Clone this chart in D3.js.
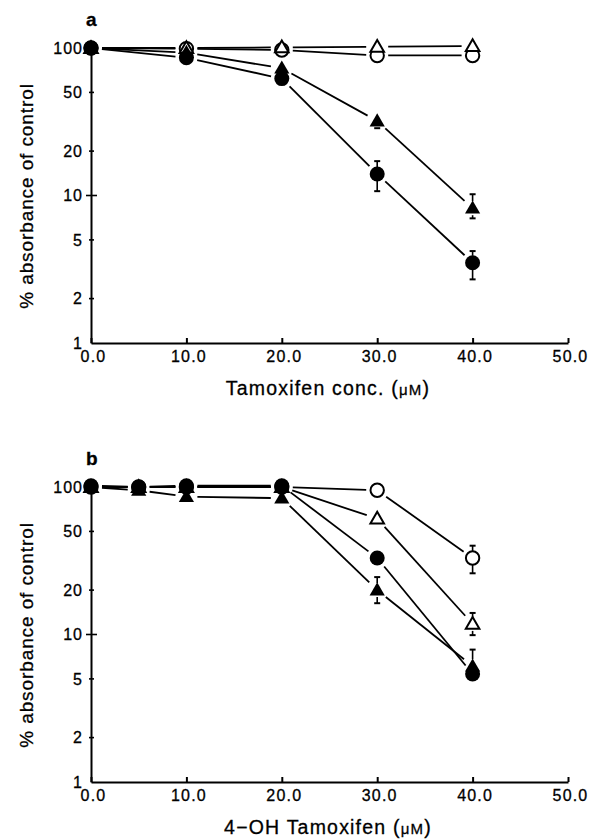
<!DOCTYPE html>
<html>
<head>
<meta charset="utf-8">
<script src="https://cdn.jsdelivr.net/npm/d3@7"></script>
<style>
  body { margin: 0; background: #fff; }
  text { font-family: "Liberation Sans", Arial, sans-serif; fill: #000; stroke: #000; stroke-width: 0.3px; }
</style>
</head>
<body>
<svg id="chart" width="595" height="839"></svg>
<script>
// panel a: tamoxifen
var aDose = [0, 10, 20, 30, 40];
var aOpenCircle = [100, 99, 97, 89, 89];
var aOpenTriangle = [100, 100, 101, 102, 103];
var aFilledTriangle = [100, 93, 73, 32, 8.2];
var aFilledCircle = [100, 86, 62, 14, 3.5];
var aFilledTriangleErr = [null, null, null, [28.6, 33], [7.0, 10.2]];
var aFilledCircleErr = [null, null, null, [10.7, 17.1], [2.7, 4.2]];

// panel b: 4-OH tamoxifen
var bDose = [0, 5, 10, 20, 30, 40];
var bOpenCircle = [100, 100, 100, 100, 95, 33];
var bOpenTriangle = [100, 100, 100, 100, 61, 11.8];
var bFilledTriangle = [100, 95, 86, 84, 20, 6.1];
var bFilledCircle = [102, 100, 102, 102, 33, 5.4];
var bOpenCircleErr = [null, null, null, null, null, [26, 40]];
var bOpenTriangleErr = [null, null, null, null, null, [9.9, 14]];
var bFilledTriangleErr = [null, null, null, null, [16.3, 24.5], [5.0, 7.9]];

var xTicks = [0, 10, 20, 30, 40, 50];
var yTicks = [1, 2, 5, 10, 20, 50, 100];
var yMajor = [10];

var svg = d3.select("#chart");

function drawPanel(top, letter, xTitle, dose, series) {
    var g = svg.append("g").attr("transform", "translate(0," + top + ")");

    var x = d3.scaleLinear().domain([0, 50]).range([91, 568]);
    var y = d3.scaleLog().domain([1, 100]).range([343, 48]);

    // y axis
    var yAxis = g.append("g")
        .attr("transform", "translate(91,0)")
        .call(d3.axisLeft(y).tickValues(yTicks).tickFormat(d3.format("d"))
            .tickSize(0).tickSizeOuter(0).tickPadding(8));
    yAxis.select(".domain").attr("stroke-width", 2);
    yAxis.selectAll("text")
        .attr("font-size", 16)
        .attr("letter-spacing", 1);

    // ticks crossing the y axis
    g.selectAll(".ytick").data(yTicks.filter(function(d) { return d > 1 && d < 100; }))
        .enter().append("line")
        .attr("x1", function(d) { return yMajor.indexOf(d) >= 0 ? 86 : 89; })
        .attr("x2", function(d) { return yMajor.indexOf(d) >= 0 ? 97 : 94; })
        .attr("y1", function(d) { return y(d); })
        .attr("y2", function(d) { return y(d); })
        .attr("stroke", "#000")
        .attr("stroke-width", 1.6);

    // x axis
    var xAxis = g.append("g")
        .attr("transform", "translate(0,343)")
        .call(d3.axisBottom(x).tickValues(xTicks).tickFormat(d3.format(".1f"))
            .tickSize(-5).tickSizeOuter(0).tickPadding(8));
    xAxis.select(".domain").attr("stroke-width", 2);
    xAxis.selectAll("line").attr("stroke-width", 2);
    xAxis.selectAll("text")
        .attr("font-size", 16)
        .attr("letter-spacing", 1.2)
        .attr("dx", 2);

    // titles
    var xt = g.append("text")
        .attr("x", 328)
        .attr("y", 395)
        .attr("text-anchor", "middle")
        .attr("font-size", 19.5)
        .attr("letter-spacing", 1.2)
        .text(xTitle + " (");
    xt.append("tspan").attr("font-size", 15).text("\u03bcM");
    xt.append("tspan").text(")");

    g.append("text")
        .attr("transform", "translate(33,196) rotate(-90)")
        .attr("text-anchor", "middle")
        .attr("font-size", 19)
        .attr("letter-spacing", 0.9)
        .text("% absorbance of control");

    g.append("text")
        .attr("x", 86)
        .attr("y", 26)
        .attr("font-size", 19)
        .attr("font-weight", "bold")
        .text(letter);

    // connecting lines, stopped short of the markers
    var gap = 11;
    series.forEach(function(s) {
        for (var i = 0; i < dose.length - 1; i++) {
            var x0 = x(dose[i]), y0 = y(s.values[i]);
            var x1 = x(dose[i + 1]), y1 = y(s.values[i + 1]);
            var len = Math.sqrt((x1 - x0) * (x1 - x0) + (y1 - y0) * (y1 - y0));
            var ux = (x1 - x0) / len, uy = (y1 - y0) / len;
            g.append("line")
                .attr("x1", x0 + ux * gap)
                .attr("y1", y0 + uy * gap)
                .attr("x2", x1 - ux * gap)
                .attr("y2", y1 - uy * gap)
                .attr("stroke", "#000")
                .attr("stroke-width", 1.8);
        }
    });

    // error bars, drawn only outside the marker
    series.forEach(function(s) {
        if (!s.err) return;
        s.err.forEach(function(e, i) {
            if (!e) return;
            var cx = x(dose[i]), cy = y(s.values[i]);
            var ends = [y(e[0]), y(e[1])];
            ends.forEach(function(ey) {
                var edge = ey > cy ? cy + 7 : cy - 7;
                if (Math.abs(ey - cy) <= 7) return;
                g.append("line")
                    .attr("x1", cx).attr("x2", cx)
                    .attr("y1", edge).attr("y2", ey)
                    .attr("stroke", "#000").attr("stroke-width", 1.6);
                g.append("line")
                    .attr("x1", cx - 3).attr("x2", cx + 3)
                    .attr("y1", ey).attr("y2", ey)
                    .attr("stroke", "#000").attr("stroke-width", 2);
            });
        });
    });

    // markers
    var tri = d3.symbol().type(d3.symbolTriangle);
    series.forEach(function(s) {
        var m = g.selectAll(null).data(s.values).enter();
        if (s.shape === "circle") {
            m.append("circle")
                .attr("cx", function(d, i) { return x(dose[i]); })
                .attr("cy", function(d) { return y(d); })
                .attr("r", s.filled ? 7.5 : 6.7)
                .attr("fill", s.filled ? "#000" : "#fff")
                .attr("stroke", "#000")
                .attr("stroke-width", s.filled ? 0 : 2);
        } else {
            m.append("path")
                .attr("d", tri.size(s.filled ? 100 : 80)())
                .attr("transform", function(d, i) {
                    return "translate(" + x(dose[i]) + "," + (y(d) + 1) + ")";
                })
                .attr("fill", s.filled ? "#000" : "#fff")
                .attr("stroke", "#000")
                .attr("stroke-width", s.filled ? 0 : 2)
                .attr("stroke-linejoin", "miter");
        }
    });
}

drawPanel(0, "a", "Tamoxifen conc.", aDose, [
    { shape: "circle", filled: false, values: aOpenCircle },
    { shape: "triangle", filled: false, values: aOpenTriangle },
    { shape: "triangle", filled: true, values: aFilledTriangle, err: aFilledTriangleErr },
    { shape: "circle", filled: true, values: aFilledCircle, err: aFilledCircleErr }
]);

drawPanel(439, "b", "4\u2212OH Tamoxifen", bDose, [
    { shape: "circle", filled: false, values: bOpenCircle, err: bOpenCircleErr },
    { shape: "triangle", filled: false, values: bOpenTriangle, err: bOpenTriangleErr },
    { shape: "circle", filled: true, values: bFilledCircle },
    { shape: "triangle", filled: true, values: bFilledTriangle, err: bFilledTriangleErr }
]);
</script>
</body>
</html>
